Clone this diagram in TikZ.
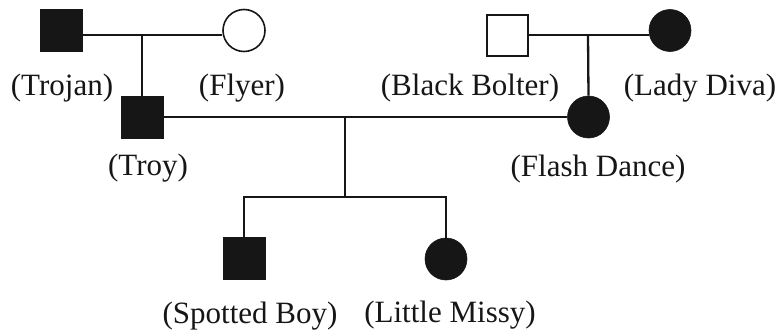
\documentclass[tikz,border=0pt]{standalone}
\usepackage{fontspec}
\setmainfont{Liberation Serif}
\definecolor{ink}{HTML}{161616}
\begin{document}
\begin{tikzpicture}[x=1pt,y=-1pt,
  link/.style={line width=2.3pt, draw=ink},
  male/.style={rectangle, minimum size=42pt, inner sep=0pt},
  female/.style={circle, minimum size=42pt, inner sep=0pt},
  aff/.style={fill=ink, draw=ink, line width=0.6pt},
  unaff/.style={fill=white, draw=ink, line width=1.6pt},
  lab/.style={anchor=base, font=\fontsize{31}{31}\selectfont, text=ink, inner sep=0pt}]
\useasboundingbox (0,0) rectangle (782,332);

% individuals
\node[male,aff]     (trojan)  at (61,30.5)   {};
\node[female,unaff] (flyer)   at (244,30.5)  {};
\node[male,unaff,minimum size=41pt] (bolter) at (507.5,35.5) {};
\node[female,aff]   (diva)    at (670,30.5)  {};
\node[male,aff]     (troy)    at (142,117)   {};
\node[female,aff]   (flash)   at (588.5,117) {};
\node[male,aff]     (spotted) at (244,258.5) {};
\node[female,aff]   (missy)   at (446,259)   {};

% junction points
\coordinate (m1)  at (142,35);
\coordinate (m2)  at (588,35);
\coordinate (m3)  at (345,117);
\coordinate (sib) at (345,197);

% matings and descent lines
\draw[link] (trojan.east |- m1) -- (flyer.west |- m1);
\draw[link] (m1) -- (troy.north);
\draw[link] (bolter.east |- m2) -- (diva.west |- m2);
\draw[link] (m2) -- (flash.north);
\draw[link] (troy.east) -- (flash.west);
\draw[link] (m3) -- (sib);
\draw[link] (spotted.north) -- (spotted.north |- sib) -- (missy.north |- sib) -- (missy.north);

% names
\node[lab] (ltrojan)  at (62,95)   {(Trojan)};
\node[lab] (lflyer)   at (242,95)  {(Flyer)};
\node[lab] (lbolter)  at (470,95)  {(Black Bolter)};
\node[lab] (ldiva)    at (700,95)  {(Lady Diva)};
\node[lab] (ltroy)    at (148,175) {(Troy)};
\node[lab] (lflash)   at (598,176) {(Flash Dance)};
\node[lab] (lspotted) at (250,323) {(Spotted Boy)};
\node[lab] (lmissy)   at (450,322) {(Little Missy)};
\end{tikzpicture}
\end{document}
